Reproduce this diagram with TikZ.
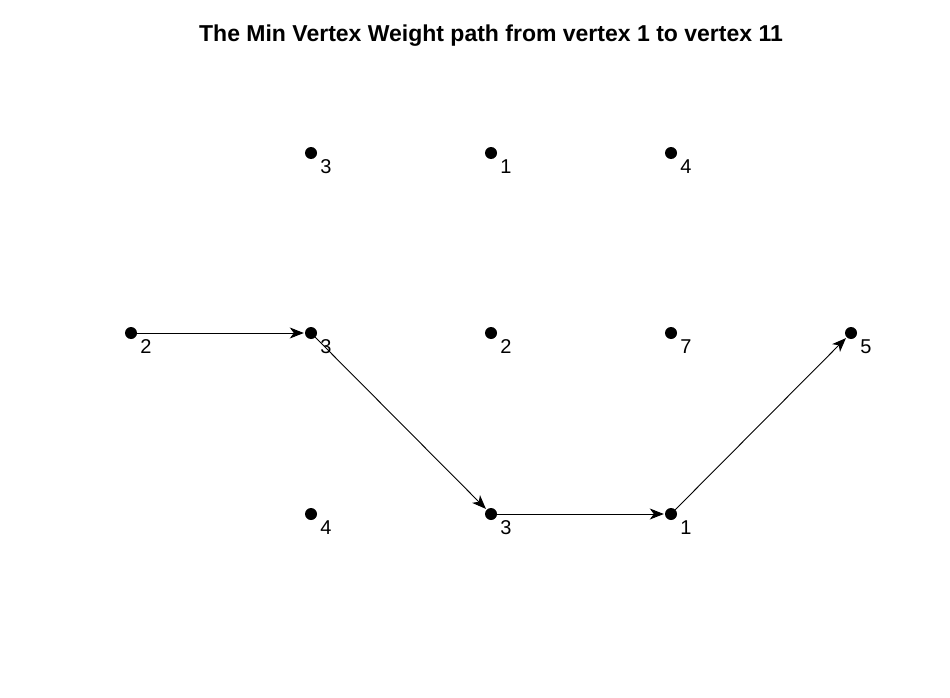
\documentclass[tikz,border=0pt]{standalone}
\usepackage{fontspec}
\setmainfont{Liberation Sans}
\usetikzlibrary{arrows.meta}
\begin{document}
\begin{tikzpicture}[x=1pt,y=-1pt,
  dot/.style={circle,fill=black,inner sep=0pt,minimum size=12pt},
  lab/.style={font=\fontsize{20}{20}\selectfont,inner sep=0pt},
  edge/.style={line width=0.9pt,-{Stealth[length=14pt,width=11pt,inset=4pt]},shorten >=1pt}]
\useasboundingbox (0,0) rectangle (950,698);
\fill[white] (0,0) rectangle (950,698);
\node[font=\bfseries\fontsize{23}{23}\selectfont] (title) at (491,36) {The Min Vertex Weight path from vertex 1 to vertex 11};
% vertices
\foreach \n/\x/\y/\w in {v1/131/333/2, v2/311/153/3, v3/311/333/3, v4/311/514/4, v5/491/153/1, v6/491/333/2, v7/491/514/3, v8/671/153/4, v9/671/333/7, v10/671/514/1, v11/851/333/5}{
  \node[dot] (\n) at (\x,\y) {};
  \node[lab] (\n l) at (\x+15,\y+14) {\w};
}
\draw[edge] (v1.center) -- (v3);
\draw[edge] (v3.center) -- (v7);
\draw[edge] (v7.center) -- (v10);
\draw[edge] (v10.center) -- (v11);
\end{tikzpicture}
\end{document}
